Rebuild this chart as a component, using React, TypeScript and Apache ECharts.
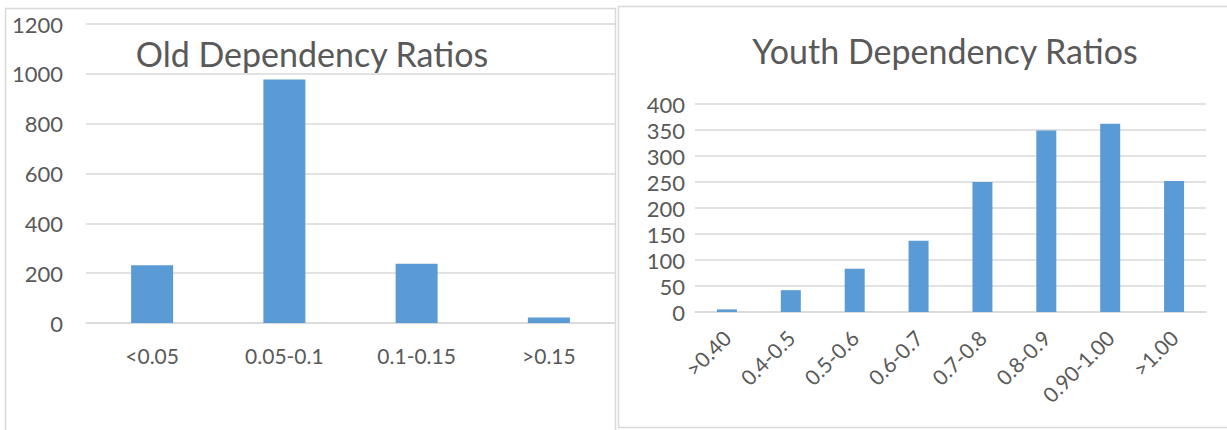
import React, { useEffect, useRef } from "react";
import * as echarts from "echarts";

const oldCategories = ["<0.05", "0.05-0.1", "0.1-0.15", ">0.15"];
const oldValues = [232, 977, 238, 22];
const youthCategories = [">0.40", "0.4-0.5", "0.5-0.6", "0.6-0.7", "0.7-0.8", "0.8-0.9", "0.90-1.00", ">1.00"];
const youthValues = [5, 42, 83, 137, 250, 349, 362, 252];

const TEXT = "#595959";
const GRID = "#d9d9d9";
const BAR = "#5B9BD5";
const FONT = "Lato";

export default function App() {
  const ref = useRef<HTMLDivElement>(null);
  useEffect(() => {
    const chart = echarts.init(ref.current!, null, { renderer: "svg" });
    chart.setOption({
      animation: false,
      backgroundColor: "#ffffff",
      textStyle: { fontFamily: FONT },
      title: [
        {
          text: "Old Dependency Ratios",
          left: 307,
          top: 31,
          textAlign: "center",
          textStyle: { fontFamily: FONT, fontSize: 34, fontWeight: "normal", color: TEXT },
        },
        {
          text: "Youth Dependency Ratios",
          left: 940,
          top: 28,
          textAlign: "center",
          textStyle: { fontFamily: FONT, fontSize: 34, fontWeight: "normal", color: TEXT },
        },
      ],
      graphic: [
        { type: "rect", shape: { x: 5.5, y: 8.5, width: 610, height: 440 }, style: { fill: "none", stroke: GRID, lineWidth: 1.5 }, z: 0 },
        { type: "rect", shape: { x: 618.5, y: 6.5, width: 640, height: 421 }, style: { fill: "none", stroke: GRID, lineWidth: 1.5 }, z: 0 },
      ],
      grid: [
        { left: 86, right: 1227 - 615, top: 24, bottom: 430 - 323 },
        { left: 695, right: 1227 - 1206, top: 104, bottom: 430 - 312 },
      ],
      xAxis: [
        {
          type: "category",
          gridIndex: 0,
          data: oldCategories,
          axisLine: { lineStyle: { color: GRID, width: 1.5 } },
          axisTick: { show: false },
          axisLabel: { color: TEXT, fontSize: 21, fontFamily: FONT, margin: 22 },
        },
        {
          type: "category",
          gridIndex: 1,
          data: youthCategories,
          axisLine: { lineStyle: { color: GRID, width: 1.5 } },
          axisTick: { show: false },
          axisLabel: { color: TEXT, fontSize: 21, fontFamily: FONT, rotate: 45, margin: 22, interval: 0 },
        },
      ],
      yAxis: [
        {
          type: "value",
          gridIndex: 0,
          min: 0,
          max: 1200,
          interval: 200,
          axisLine: { show: false },
          axisTick: { show: false },
          splitLine: { lineStyle: { color: GRID, width: 1.5 } },
          axisLabel: { color: TEXT, fontSize: 22, fontFamily: FONT, margin: 23, formatter: (v: number) => String(v) },
        },
        {
          type: "value",
          gridIndex: 1,
          min: 0,
          max: 400,
          interval: 50,
          axisLine: { show: false },
          axisTick: { show: false },
          splitLine: { lineStyle: { color: GRID, width: 1.5 } },
          axisLabel: { color: TEXT, fontSize: 22, fontFamily: FONT, margin: 10, formatter: (v: number) => String(v) },
        },
      ],
      series: [
        {
          type: "bar",
          xAxisIndex: 0,
          yAxisIndex: 0,
          data: oldValues,
          barWidth: 42,
          itemStyle: { color: BAR },
        },
        {
          type: "bar",
          xAxisIndex: 1,
          yAxisIndex: 1,
          data: youthValues,
          barWidth: 20,
          itemStyle: { color: BAR },
        },
      ],
    });
    return () => chart.dispose();
  }, []);
  return (
    <div
      ref={ref}
      style={{ position: "fixed", left: 0, top: 0, width: 1227, height: 430, background: "#fff" }}
    />
  );
}
